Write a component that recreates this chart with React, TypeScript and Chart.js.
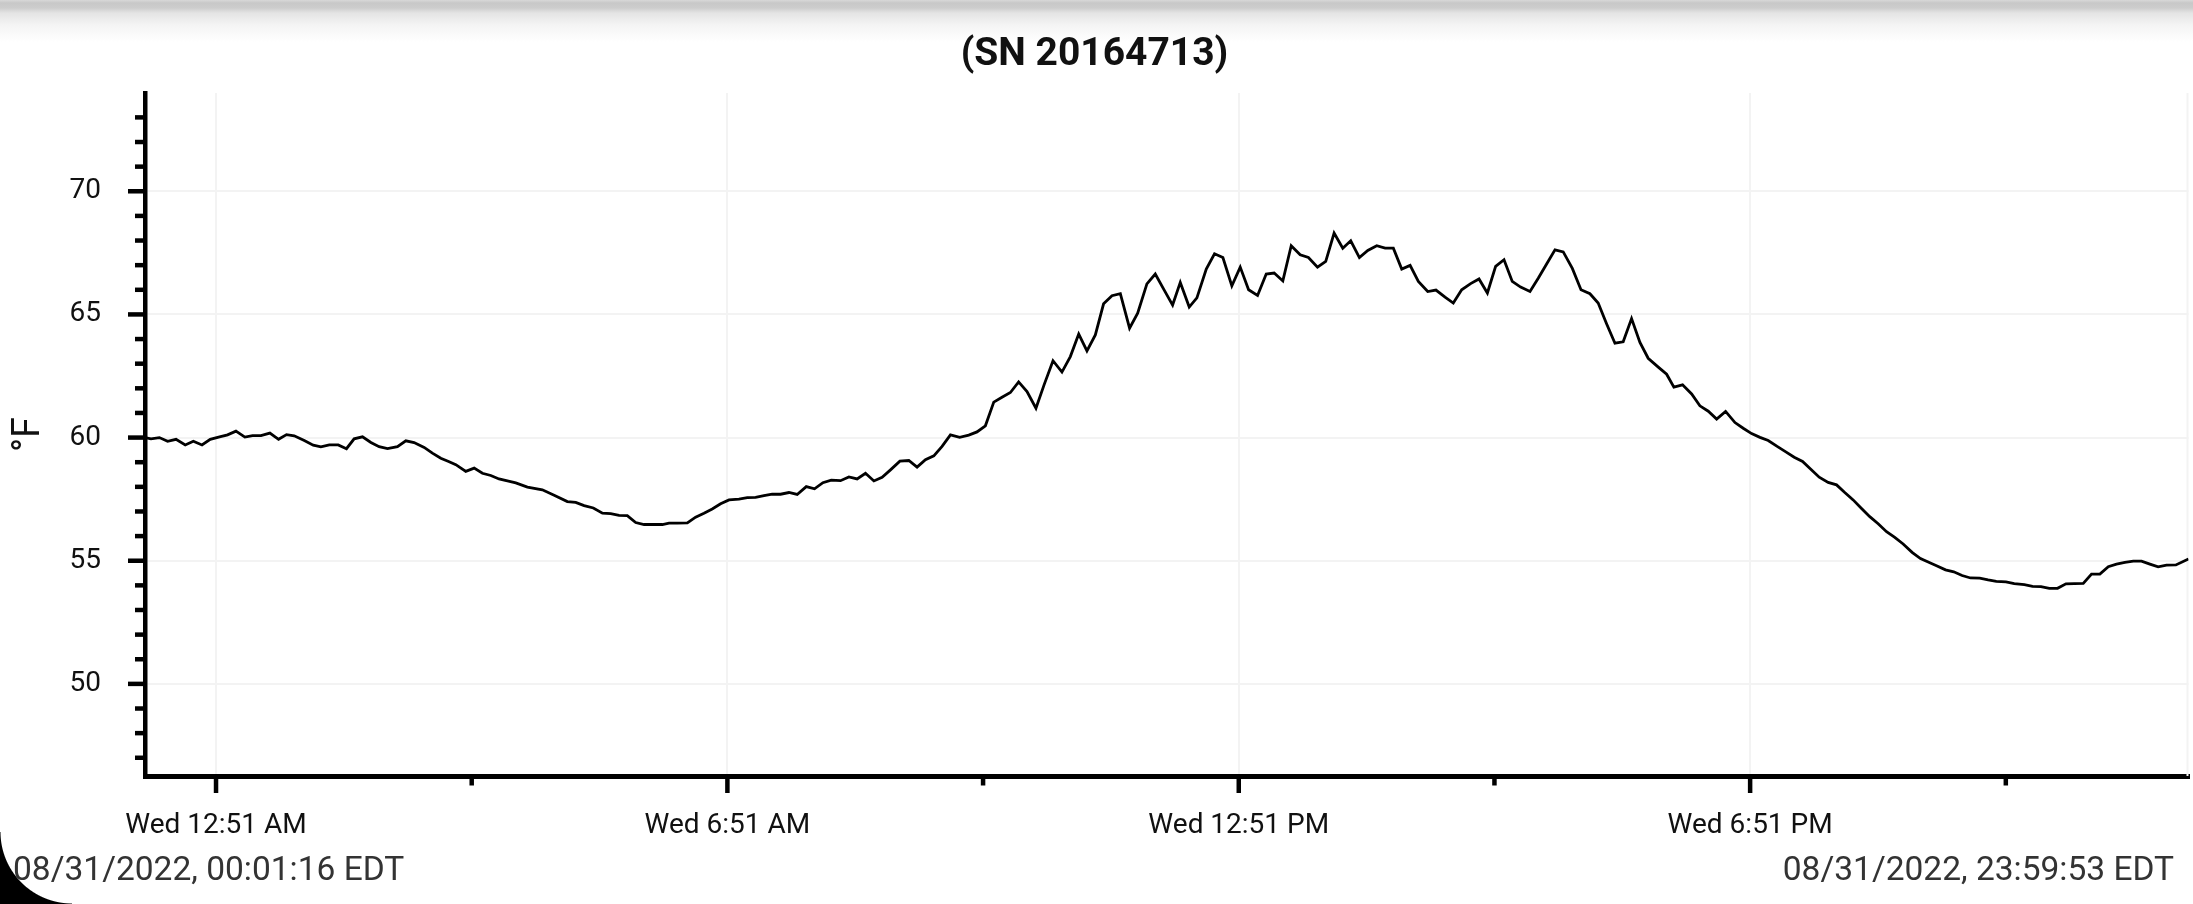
import { useEffect, useRef } from "react";
import { Chart, registerables } from "chart.js";

Chart.register(...registerables);

const W = 2193;
const H = 904;

const chartTitle = "(SN 20164713)";
const yAxisTitle = "°F";
const startStamp = "08/31/2022, 00:01:16 EDT";
const endStamp = "08/31/2022, 23:59:53 EDT";

// x axis: minutes after midnight
const xMin = 1.27;
const xMax = 1439.88;
const xTickMinutes = [51.27, 231.27, 411.27, 591.27, 771.27, 951.27, 1131.27, 1311.27];
const xTickLabels = ["Wed 12:51 AM", "", "Wed 6:51 AM", "", "Wed 12:51 PM", "", "Wed 6:51 PM", ""];

// y axis
const yMin = 46.26;
const yMax = 73.99;
const yMajorTicks = [50, 55, 60, 65, 70];
const yMinorTicks = [47, 48, 49, 50, 51, 52, 53, 54, 55, 56, 57, 58, 59, 60, 61, 62, 63, 64, 65, 66, 67, 68, 69, 70, 71, 72, 73];

const minutes = [
  1.27, 5.5, 11.4, 17.2, 23.1, 29.6, 35.3, 41.4, 47.2, 53.1, 59.4, 65.3, 71.6, 77.0, 82.9, 89.2, 95.3, 100.9,
  106.3, 113.4, 119.7, 125.1, 131.0, 137.3, 143.1, 148.5, 154.4, 160.3, 166.1, 172.0, 179.0, 184.9, 190.7,
  197.8, 203.6, 209.5, 215.0, 220.1, 227.1, 233.0, 238.8, 244.7, 250.5, 256.4, 262.3, 270.5,
  281.0, 289.3, 298.6, 304.5, 310.4, 316.9, 323.3, 329.1, 335.0, 340.8, 346.7, 352.6, 359.6, 365.5, 370.2,
  376.0, 383.1, 388.9, 394.8, 400.6, 406.5, 412.4, 419.4, 425.3, 431.1, 437.0, 442.8, 448.7, 454.6, 460.4,
  466.8, 472.6, 478.5, 484.4, 490.9, 496.8, 502.6, 508.5, 514.4, 520.2, 526.1, 532.7,
  539.0, 544.8, 550.7, 556.6, 562.4, 568.3, 574.8, 581.2, 587.0, 592.9, 598.8, 604.6, 610.5, 616.3, 622.2,
  628.5, 634.4, 640.5, 646.8, 652.7, 658.6, 664.4, 670.3, 676.1, 682.0, 687.9, 694.4, 700.1, 706.6, 712.5,
  718.4, 724.7, 730.1, 736.4, 741.8, 748.4, 754.2, 760.1, 766.4, 772.3, 778.2, 784.5, 790.6, 796.2, 802.3,
  808.2, 814.5,
  820.3, 826.7, 832.5, 838.4, 844.5, 850.1, 856.2, 862.1, 868.4, 874.3, 880.1, 886.0, 891.9, 897.7, 904.3,
  910.1, 916.5, 922.3, 928.2, 934.5, 940.4, 946.3, 952.1, 958.0, 963.8, 969.7, 976.3, 982.1, 988.0, 993.9,
  999.7, 1006.1, 1012.2, 1018.5, 1024.3, 1030.2, 1036.1, 1041.9, 1047.8, 1053.7, 1059.5, 1066.6,
  1072.5, 1077.6, 1083.7, 1090.1, 1095.9, 1101.8, 1107.7, 1114.0, 1120.6, 1126.4, 1132.3, 1138.2, 1144.0,
  1150.3, 1156.4, 1162.3, 1168.2, 1173.8, 1179.9, 1186.2, 1192.1, 1197.9, 1203.8, 1209.7, 1215.5, 1221.4,
  1227.3, 1233.1, 1239.0, 1245.3, 1251.2, 1257.0, 1262.9, 1268.8, 1274.6, 1280.5, 1286.4, 1292.9, 1298.8,
  1304.6, 1311.4, 1317.2, 1324.3, 1330.1, 1336.0, 1341.9, 1347.7, 1353.6, 1359.5, 1365.8, 1371.6, 1377.5,
  1383.4, 1389.2, 1395.1, 1401.0, 1406.8, 1412.7, 1418.5, 1424.4, 1431.0, 1439.88,
];

const tempsF = [
  60.0, 59.95, 60.0, 59.85, 59.93, 59.7, 59.85, 59.7, 59.93, 60.02, 60.11, 60.26, 60.02, 60.08, 60.08, 60.18, 59.93, 60.12,
  60.07, 59.88, 59.69, 59.62, 59.7, 59.7, 59.55, 59.95, 60.03, 59.8, 59.63, 59.55, 59.63, 59.87, 59.8,
  59.6, 59.37, 59.16, 59.03, 58.9, 58.63, 58.76, 58.55, 58.46, 58.32, 58.24, 58.16, 57.99,
  57.88, 57.66, 57.4, 57.37, 57.24, 57.14, 56.93, 56.91, 56.84, 56.83, 56.55, 56.47, 56.47, 56.47, 56.53,
  56.53, 56.54, 56.77, 56.93, 57.1, 57.31, 57.47, 57.5, 57.56, 57.57, 57.64, 57.7, 57.7, 57.77, 57.69,
  58.01, 57.92, 58.17, 58.27, 58.25, 58.4, 58.32, 58.55, 58.24, 58.39, 58.69, 59.04,
  59.07, 58.8, 59.1, 59.26, 59.64, 60.11, 60.01, 60.1, 60.23, 60.48, 61.44, 61.64, 61.83, 62.26, 61.87,
  61.19, 62.17, 63.12, 62.66, 63.29, 64.2, 63.52, 64.17, 65.43, 65.76, 65.84, 64.44, 65.05, 66.24, 66.64,
  66.03, 65.38, 66.3, 65.3, 65.67, 66.84, 67.46, 67.31, 66.16, 66.92, 66.0, 65.77, 66.64, 66.68, 66.36,
  67.79, 67.42,
  67.31, 66.92, 67.15, 68.3, 67.69, 67.99, 67.31, 67.6, 67.79, 67.69, 67.69, 66.84, 66.99, 66.34, 65.93,
  65.99, 65.7, 65.46, 66.0, 66.25, 66.44, 65.87, 66.95, 67.22, 66.34, 66.11, 65.93, 66.47, 67.05, 67.62,
  67.54, 66.87, 66.0, 65.84, 65.46, 64.62, 63.83, 63.89, 64.83, 63.86, 63.22, 62.86,
  62.57, 62.05, 62.14, 61.77, 61.29, 61.07, 60.75, 61.06, 60.61, 60.38, 60.16, 60.01, 59.88,
  59.64, 59.42, 59.2, 59.03, 58.72, 58.39, 58.18, 58.08, 57.77, 57.47, 57.12, 56.79, 56.5,
  56.18, 55.95, 55.68, 55.34, 55.09, 54.94, 54.79, 54.63, 54.55, 54.4, 54.3, 54.29, 54.22,
  54.16, 54.14, 54.07, 54.03, 53.96, 53.95, 53.88, 53.88, 54.06, 54.07, 54.08, 54.46, 54.46,
  54.76, 54.86, 54.93, 54.98, 54.98, 54.86, 54.75, 54.82, 54.83, 55.07,
];

const FONT = "Roboto";
const GRID = "#f3f3f3";
const CLEAR = "rgba(0,0,0,0)";

const frame = {
  id: "frame",
  beforeDatasetsDraw(chart: any) {
    const { ctx, chartArea } = chart;
    ctx.save();
    ctx.strokeStyle = GRID;
    ctx.lineWidth = 2;
    ctx.beginPath();
    ctx.moveTo(chartArea.right - 1, chartArea.top);
    ctx.lineTo(chartArea.right - 1, chartArea.bottom);
    ctx.stroke();
    ctx.restore();
  },
  afterDraw(chart: any) {
    const { ctx } = chart;
    const xs = chart.scales.x;
    const ys = chart.scales.y;
    ctx.save();
    ctx.strokeStyle = "#000";
    ctx.lineWidth = 4.5;
    ctx.lineCap = "butt";
    ys.ticks.forEach((t: any) => {
      const y = ys.getPixelForValue(t.value);
      const len = yMajorTicks.includes(t.value) ? 17 : 10;
      ctx.beginPath();
      ctx.moveTo(ys.right - len, y);
      ctx.lineTo(ys.right, y);
      ctx.stroke();
    });
    xs.ticks.forEach((t: any, i: number) => {
      const x = xs.getPixelForValue(t.value);
      const len = xTickLabels[i] ? 17 : 9.5;
      ctx.beginPath();
      ctx.moveTo(x, xs.top);
      ctx.lineTo(x, xs.top + len);
      ctx.stroke();
    });
    ctx.restore();
  },
};

export default function App() {
  const ref = useRef<HTMLCanvasElement | null>(null);

  useEffect(() => {
    if (!ref.current) return;
    const chart = new Chart(ref.current, {
      type: "line",
      data: {
        datasets: [
          {
            data: minutes.map((m, i) => ({ x: m, y: tempsF[i] })),
            borderColor: "#000",
            borderWidth: 2.8,
            pointRadius: 0,
            tension: 0,
            fill: false,
          },
        ],
      },
      options: {
        animation: false,
        responsive: false,
        devicePixelRatio: 1,
        events: [],
        layout: { padding: { top: 93, right: 4.5, left: 0, bottom: 0 } },
        plugins: {
          legend: { display: false },
          tooltip: { enabled: false },
          title: { display: false },
        },
        scales: {
          x: {
            type: "linear",
            min: xMin,
            max: xMax,
            afterBuildTicks: (s: any) => {
              s.ticks = xTickMinutes.map((v) => ({ value: v }));
            },
            afterFit: (s: any) => {
              s.height = H - 776;
            },
            ticks: {
              autoSkip: false,
              maxRotation: 0,
              minRotation: 0,
              padding: 33,
              color: "#111",
              font: { family: FONT, size: 28 },
              callback: (_v: any, i: number) => xTickLabels[i],
            },
            grid: {
              drawTicks: false,
              lineWidth: 2,
              color: (c: any) => (xTickLabels[c.index] ? GRID : CLEAR),
            },
            border: { display: true, color: "#000", width: 5 },
          },
          y: {
            type: "linear",
            min: yMin,
            max: yMax,
            afterBuildTicks: (s: any) => {
              s.ticks = yMinorTicks.map((v) => ({ value: v }));
            },
            afterFit: (s: any) => {
              s.width = 145;
            },
            ticks: {
              autoSkip: false,
              padding: 44,
              color: "#111",
              font: { family: FONT, size: 28 },
              callback: (v: any) => (yMajorTicks.includes(v) ? String(v) : ""),
            },
            grid: {
              drawTicks: false,
              lineWidth: 2,
              color: (c: any) => (c.tick && yMajorTicks.includes(c.tick.value) ? GRID : CLEAR),
            },
            border: { display: true, color: "#000", width: 4.5 },
            title: {
              display: true,
              text: yAxisTitle,
              color: "#111",
              font: { family: FONT, size: 38, lineHeight: 1.2 },
              padding: { top: 7, bottom: 0 },
            },
          },
        },
      },
      plugins: [frame],
    } as any);
    return () => chart.destroy();
  }, []);

  const stamp: React.CSSProperties = {
    position: "absolute",
    top: 849.2,
    fontFamily: FONT,
    fontSize: 33.5,
    lineHeight: "40px",
    color: "#333",
    whiteSpace: "nowrap",
  };

  return (
    <div
      style={{
        position: "fixed",
        left: 0,
        top: 0,
        width: W,
        height: H,
        background: "#fff",
        overflow: "hidden",
      }}
    >
      <div
        style={{
          position: "absolute",
          left: 0,
          top: 0,
          width: W,
          height: 44,
          background:
            "linear-gradient(to bottom, #d8d8d8 0px, #c8c8c8 3px, #cdcdcd 8px, #e4e4e4 13px, #f4f4f4 25px, #ffffff 42px)",
        }}
      />
      <canvas
        ref={ref}
        width={W}
        height={H}
        style={{ position: "absolute", left: 0, top: 0, width: W, height: H }}
      />
      <div
        style={{
          position: "absolute",
          left: 0,
          top: 30.4,
          width: 2189,
          textAlign: "center",
          fontFamily: FONT,
          fontWeight: 700,
          fontSize: 39,
          lineHeight: "44px",
          color: "#111",
        }}
      >
        {chartTitle}
      </div>
      <div style={{ ...stamp, left: 13 }}>{startStamp}</div>
      <div style={{ ...stamp, right: 19, textAlign: "right" }}>{endStamp}</div>
      <div
        style={{
          position: "absolute",
          left: 0,
          top: H - 72,
          width: 72,
          height: 72,
          background: "radial-gradient(circle 72px at 100% 0%, rgba(0,0,0,0) 71px, #000 72px)",
        }}
      />
    </div>
  );
}
